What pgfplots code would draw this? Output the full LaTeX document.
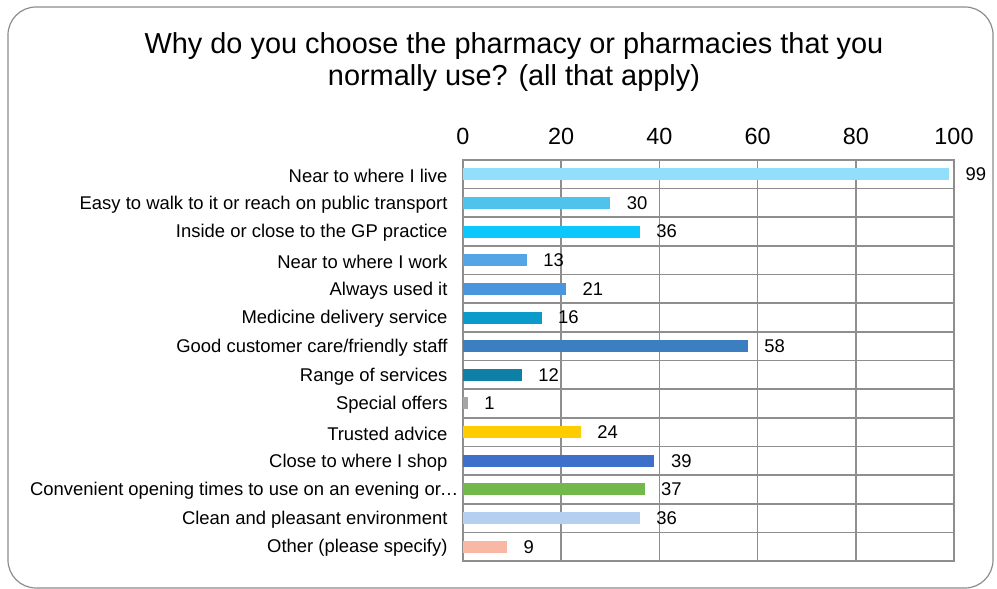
\documentclass[border=0pt]{standalone}
\usepackage{fontspec}
\setmainfont{Liberation Sans}
\usepackage{pgfplots}
\pgfplotsset{compat=1.18}
\definecolor{bordergray}{HTML}{8C8C8C}
\definecolor{gridgray}{HTML}{8E8E8E}
\definecolor{c1}{HTML}{93DFFB}
\definecolor{c2}{HTML}{4FC3EB}
\definecolor{c3}{HTML}{0BC7FB}
\definecolor{c4}{HTML}{55A5E6}
\definecolor{c5}{HTML}{4A96DE}
\definecolor{c6}{HTML}{0B9BCB}
\definecolor{c7}{HTML}{3C7FC1}
\definecolor{c8}{HTML}{0E7FA6}
\definecolor{c9}{HTML}{A6A6A6}
\definecolor{c10}{HTML}{FFCC00}
\definecolor{c11}{HTML}{3E6FCB}
\definecolor{c12}{HTML}{72B84A}
\definecolor{c13}{HTML}{B4CFF0}
\definecolor{c14}{HTML}{F8B8A5}
\begin{document}
\begin{tikzpicture}
\useasboundingbox (0bp,0bp) rectangle (997bp,589bp);
\draw[bordergray, line width=1.2bp, rounded corners=28bp] (8bp,1bp) rectangle (993bp,582bp);
\node[font=\fontsize{29}{32}\selectfont, align=center] at (514bp,527bp)
  {Why do you choose the pharmacy or pharmacies that you\\normally use? (all that apply)};
\begin{axis}[
  at={(463bp,28bp)}, anchor=south west,
  scale only axis, width=491bp, height=401bp,
  xbar, bar width=12bp, bar shift=0pt,
  xmin=0, xmax=100, ymin=0.5, ymax=14.5, y dir=reverse,
  xtick={0,20,...,100}, xticklabel pos=upper, xmajorgrids,
  ytick={1,...,14},
  yticklabels={Near to where I live,
    Easy to walk to it or reach on public transport,
    Inside or close to the GP practice,
    Near to where I work,
    Always used it,
    Medicine delivery service,
    Good customer care/friendly staff,
    Range of services,
    Special offers,
    Trusted advice,
    Close to where I shop,
    Convenient opening times to use on an evening or\kern-1bp…\kern-11bp,
    Clean and pleasant environment,
    Other (please specify)},
  minor ytick={1.5,2.5,...,13.5}, yminorgrids,
  major tick length=0, minor tick length=0,
  grid style={gridgray, line width=1.7bp},
  minor grid style={gridgray, line width=1.7bp},
  axis line style={gridgray, line width=1.9bp},
  /pgf/number format/assume math mode=true,
  xticklabel style={font=\fontsize{23.5}{23.5}\selectfont, yshift=12bp},
  yticklabel style={font=\fontsize{18.5}{18.5}\selectfont, xshift=-12bp, yshift=-1.5bp},
  nodes near coords,
  nodes near coords style={anchor=west, xshift=13bp, font=\fontsize{18.5}{18.5}\selectfont, text=black},
  every axis plot/.append style={draw=none},
]
\addplot[fill=c1] coordinates {(99,1)};
\addplot[fill=c2] coordinates {(30,2)};
\addplot[fill=c3] coordinates {(36,3)};
\addplot[fill=c4] coordinates {(13,4)};
\addplot[fill=c5] coordinates {(21,5)};
\addplot[fill=c6] coordinates {(16,6)};
\addplot[fill=c7] coordinates {(58,7)};
\addplot[fill=c8] coordinates {(12,8)};
\addplot[fill=c9] coordinates {(1,9)};
\addplot[fill=c10] coordinates {(24,10)};
\addplot[fill=c11] coordinates {(39,11)};
\addplot[fill=c12] coordinates {(37,12)};
\addplot[fill=c13] coordinates {(36,13)};
\addplot[fill=c14] coordinates {(9,14)};
\end{axis}
\end{tikzpicture}
\end{document}
